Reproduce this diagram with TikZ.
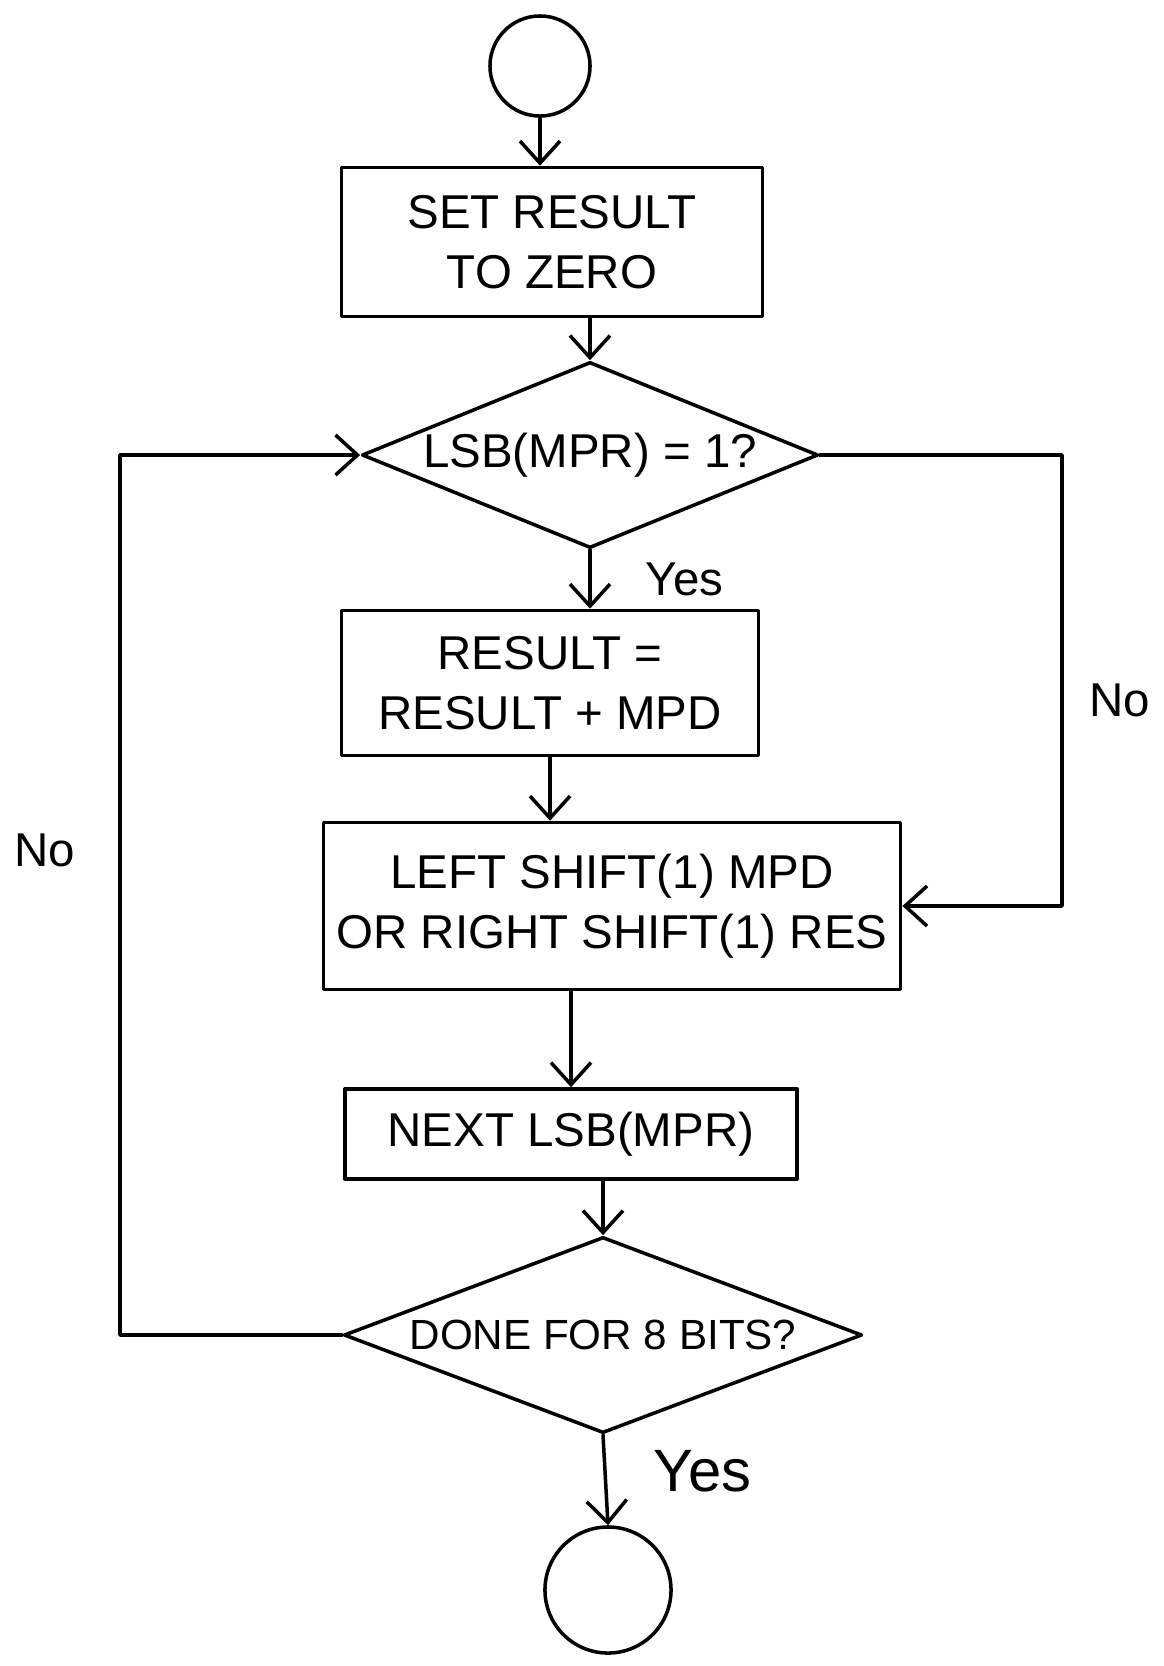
\documentclass[tikz,border=0pt]{standalone}
\usepackage{fontspec}
\setmainfont{Liberation Sans}
\usetikzlibrary{shapes.geometric, arrows.meta}

\begin{document}
\begin{tikzpicture}[x=0.01cm, y=-0.01cm, line join=round, line cap=round, line width=1pt,
    box/.style={draw, rectangle, align=center, inner sep=0pt},
    decision/.style={draw, diamond, align=center, inner sep=0pt},
    terminal/.style={draw, circle, inner sep=0pt},
    arr/.style={-{Straight Barb[length=2.2mm,width=4mm]}},
    font=\fontsize{13.5}{17}\selectfont]

  % page frame
  \useasboundingbox (0,0) rectangle (1163,1666);

  % start and stop
  \node[terminal, minimum size=1cm] (start) at (540,66) {};
  \node[terminal, minimum size=1.26cm] (stop) at (608,1590) {};

  % steps
  \node[box, minimum width=4.21cm, minimum height=1.49cm] (setres) at (552,242) {SET RESULT\\TO ZERO};
  \node[decision, aspect=2.45, minimum width=4.56cm, minimum height=1.86cm] (lsbtest) at (590,455) {LSB(MPR) = 1?};
  \node[box, minimum width=4.17cm, minimum height=1.45cm] (addmpd) at (550,683) {RESULT =\\RESULT + MPD};
  \node[box, minimum width=5.77cm, minimum height=1.67cm] (shift) at (612,906) {LEFT SHIFT(1) MPD\\OR RIGHT SHIFT(1) RES};
  \node[box, minimum width=4.52cm, minimum height=0.9cm] (next) at (571,1134) {NEXT LSB(MPR)};
  \node[decision, aspect=2.64, minimum width=5.18cm, minimum height=1.96cm,
        font=\fontsize{12}{15}\selectfont] (donetest) at (603,1335) {DONE FOR 8 BITS?};

  % loop corners
  \coordinate (rightcol) at (1062,700);
  \coordinate (leftcol) at (120,850);

  % main flow
  \draw[arr] (start) -- (start |- setres.north);
  \draw[arr] (setres.south -| lsbtest.north) -- (lsbtest.north);
  \draw[arr] (lsbtest.south) -- (lsbtest.south |- addmpd.north) node[pos=0.5, right=12pt] {Yes};
  \draw[arr] (addmpd.south) -- (addmpd.south |- shift.north);
  \draw[arr] (shift.south -| next.north) -- (next.north);
  \draw[arr] (next.south -| donetest.north) -- (donetest.north);
  \draw[arr] (donetest.south) -- (stop.north) node[pos=0.4, right=10pt, font=\fontsize{17}{20}\selectfont] {Yes};

  % loops back
  \draw[arr] (lsbtest.east) -| (rightcol) node[right=4pt] {No} |- (shift.east);
  \draw[arr] (donetest.west) -| (leftcol) node[left=9pt] {No} |- (lsbtest.west);

\end{tikzpicture}
\end{document}
